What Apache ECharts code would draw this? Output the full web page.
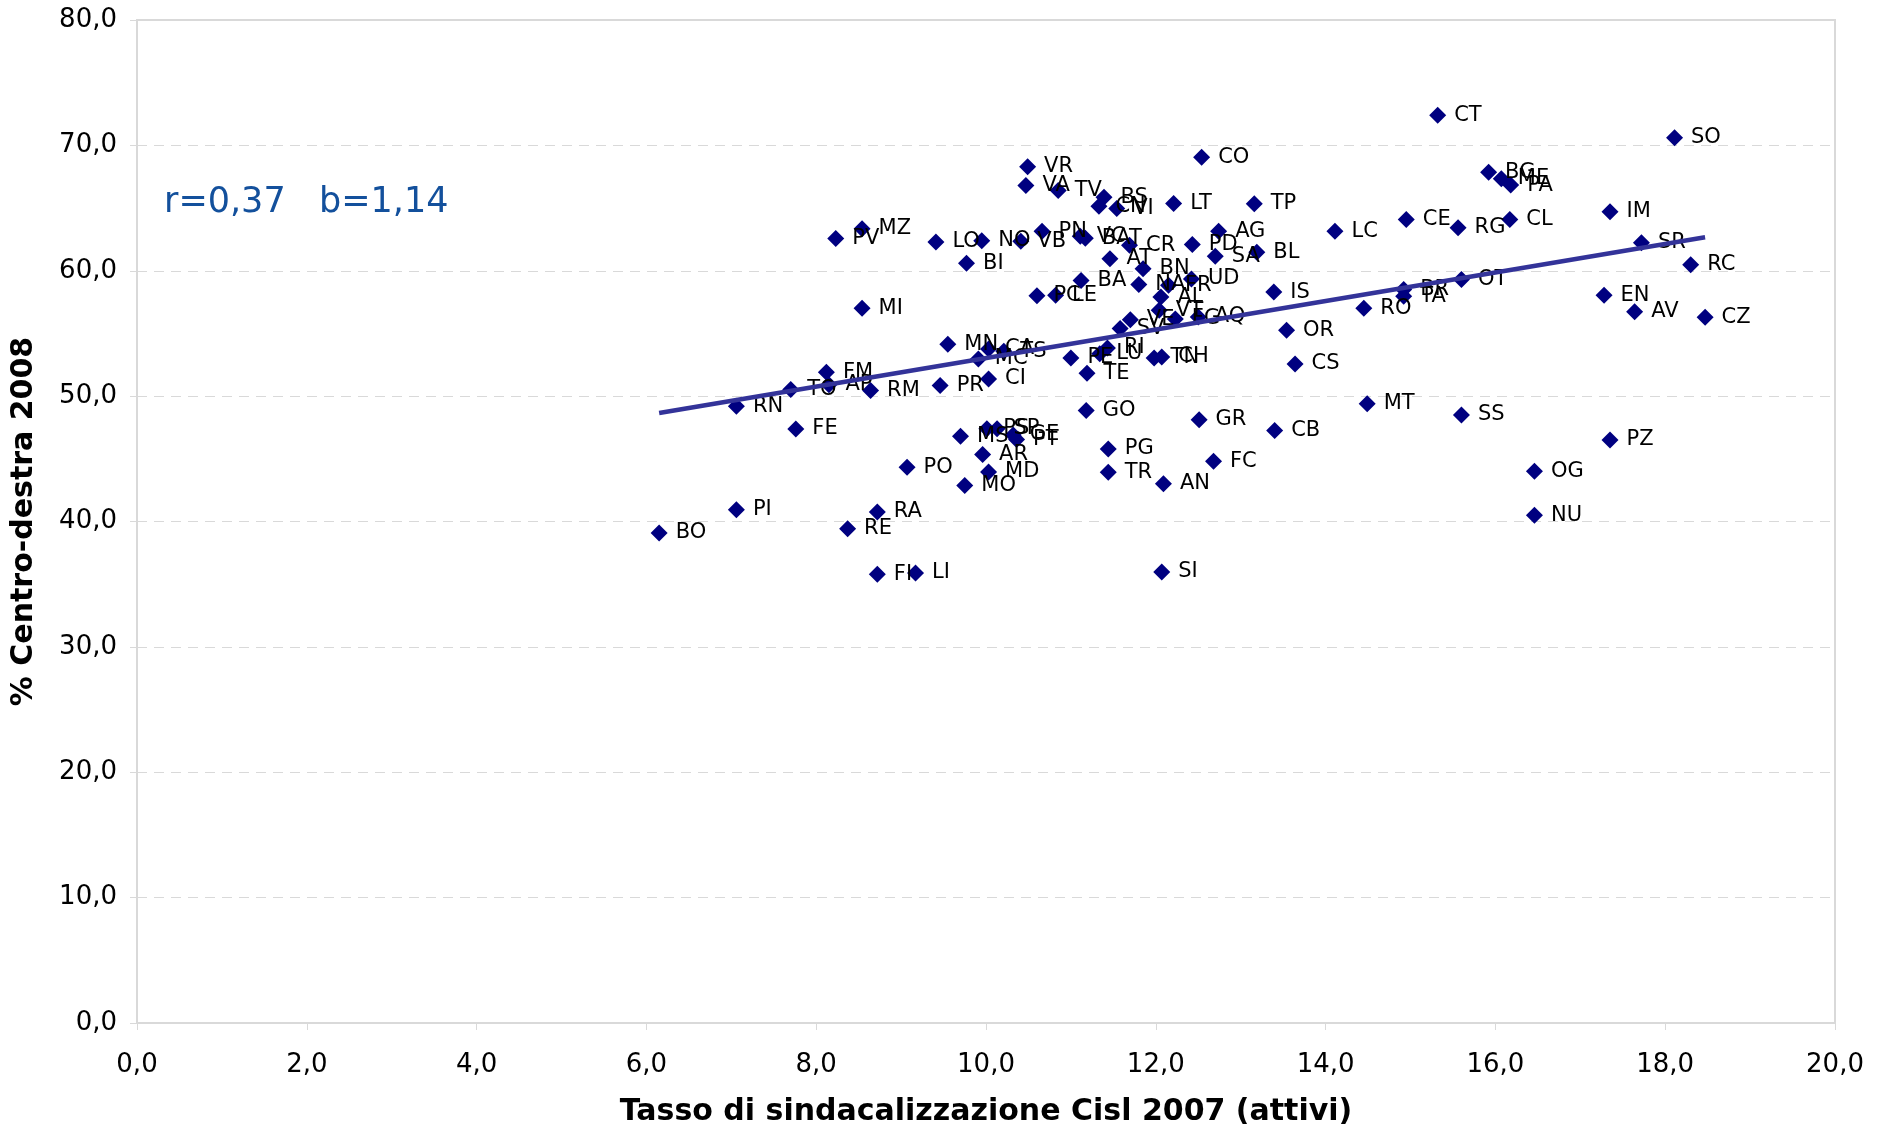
<!DOCTYPE html>
<html>
<head>
<meta charset="utf-8">
<script src="https://cdn.jsdelivr.net/npm/echarts@6/dist/echarts.min.js"></script>
<style>
  html, body { margin: 0; padding: 0; background: #fff; }
  #chart { width: 1892px; height: 1130px; }
</style>
</head>
<body>
<div id="chart"></div>
<script>
// province codes, Cisl unionisation rate 2007 (x) and centre-right vote 2008 (y)
var provinces = ['CT','SO','CO','VR','VA','TV','BS','CN','VI','LT','TP','BG','ME','PA','IM','CE','RG','CL','LC','AG',
  'PD','SA','BL','CR','AT','BN','PN','VC','BAT','VB','NO','LO','PV','MZ','BI','MI','SR','RC','OT','BR',
  'TA','RO','EN','AV','CZ','IS','OR','BA','NA','FR','UD','PC','LE','AL','VT','VE','SV','FG','AQ','MN',
  'CA','TS','MC','RI','LU','PE','TN','CH','CS','TE','CI','PR','RM','FM','AP','TO','RN','GO','GR','MT',
  'SS','CB','PZ','FE','MS','PS','SP','GE','PT','AR','PG','FC','PO','MD','TR','OG','MO','AN','PI','RA',
  'NU','RE','BO','FI','LI','SI'];
var tassoCisl = [15.32,18.11,12.54,10.49,10.47,10.85,11.39,11.33,11.54,12.21,13.16,15.92,16.07,16.18,17.35,14.95,15.56,16.17,14.11,12.74,
  12.43,12.70,13.19,11.69,11.46,11.85,10.66,11.11,11.17,10.41,9.95,9.41,8.23,8.54,9.77,8.54,17.72,18.30,15.60,14.92,
  14.92,14.45,17.28,17.64,18.47,13.39,13.54,11.12,11.80,12.15,12.42,10.60,10.82,12.06,12.04,11.70,11.58,12.23,12.50,9.55,
  10.03,10.21,9.91,11.43,11.34,11.00,11.98,12.07,13.64,11.19,10.03,9.46,8.64,8.12,8.15,7.70,7.06,11.18,12.51,14.49,
  15.60,13.40,17.35,7.76,9.70,10.01,10.13,10.32,10.36,9.96,11.44,12.68,9.07,10.03,11.44,16.46,9.75,12.09,7.06,8.72,
  16.46,8.37,6.15,8.72,9.17,12.07];
var centroDestra = [72.41,70.6,69.06,68.3,66.8,66.4,65.87,65.15,64.96,65.36,65.34,67.86,67.33,66.83,64.7,64.09,63.42,64.09,63.16,63.15,
  62.09,61.16,61.48,62.04,60.95,60.15,63.15,62.76,62.6,62.36,62.4,62.3,62.57,63.34,60.6,57.0,62.23,60.47,59.3,58.5,
  57.97,57.0,58.05,56.72,56.29,58.3,55.25,59.22,58.9,58.85,59.35,58.0,58.05,57.9,56.85,56.1,55.4,56.16,56.32,54.14,
  53.76,53.58,52.97,53.84,53.37,53.05,53.05,53.13,52.57,51.82,51.37,50.84,50.44,51.9,50.9,50.52,49.19,48.86,48.12,49.4,
  48.5,47.25,46.5,47.38,46.8,47.4,47.4,46.9,46.55,45.35,45.79,44.8,44.32,43.95,43.92,44.0,42.88,43.02,40.94,40.76,
  40.49,39.42,39.08,35.8,35.9,35.97];

// regression line end points
var trendX = [6.15, 18.47];
var trendY = [48.66, 62.67];
var statR = '0,37';
var statB = '1,14';

var fontFam = 'Verdana, "DejaVu Sans", sans-serif';

var scatterData = provinces.map(function(p, i) {
    return { name: p, value: [tassoCisl[i], centroDestra[i]] };
});
var trendData = trendX.map(function(x, i) { return [x, trendY[i]]; });

var fmt = function(v) { return v.toFixed(1).replace('.', ','); };

var chart = echarts.init(document.getElementById('chart'));
chart.setOption({
    animation: false,
    backgroundColor: '#ffffff',
    grid: {
        left: 137, top: 20, width: 1698, height: 1003,
        show: true, borderColor: '#d9d9d9', borderWidth: 2,
        outerBoundsMode: 'none'
    },
    graphic: [{
        type: 'text', left: 164, top: 185,
        style: { text: 'r=' + statR + '   b=' + statB, fontSize: 35, fill: '#13509c', fontFamily: fontFam }
    }],
    xAxis: {
        type: 'value', min: 0, max: 20, interval: 2,
        name: 'Tasso di sindacalizzazione Cisl 2007 (attivi)',
        nameLocation: 'middle', nameGap: 74,
        nameTextStyle: { fontSize: 30, fontWeight: 'bold', color: '#000', fontFamily: fontFam },
        axisLine: { lineStyle: { color: '#d9d9d9', width: 2 } },
        axisTick: { show: true, length: 7, lineStyle: { color: '#d9d9d9', width: 1 } },
        axisLabel: { formatter: fmt, fontSize: 26, color: '#000', margin: 29, fontFamily: fontFam },
        splitLine: { show: false }
    },
    yAxis: {
        type: 'value', min: 0, max: 80, interval: 10,
        name: '% Centro-destra 2008',
        nameLocation: 'middle', nameGap: 98, nameRotate: 90,
        nameTextStyle: { fontSize: 30, fontWeight: 'bold', color: '#000', fontFamily: fontFam },
        axisLine: { show: true, lineStyle: { color: '#d9d9d9', width: 2 } },
        axisTick: { show: true, length: 7, lineStyle: { color: '#d9d9d9', width: 1 } },
        axisLabel: { formatter: fmt, fontSize: 26, color: '#000', margin: 20, fontFamily: fontFam },
        splitLine: { show: true, lineStyle: { color: '#d9d9d9', width: 1, type: [10, 7] } }
    },
    series: [{
        type: 'scatter',
        data: scatterData,
        symbol: 'diamond',
        symbolSize: 17,
        itemStyle: { color: '#000080', opacity: 1 },
        label: {
            show: true, position: 'right', distance: 8,
            formatter: '{b}', fontSize: 21, color: '#000', fontFamily: fontFam
        },
        z: 2
    }, {
        type: 'line',
        data: trendData,
        symbol: 'none',
        lineStyle: { color: '#333399', width: 4.5 },
        z: 3
    }]
});
</script>
</body>
</html>
